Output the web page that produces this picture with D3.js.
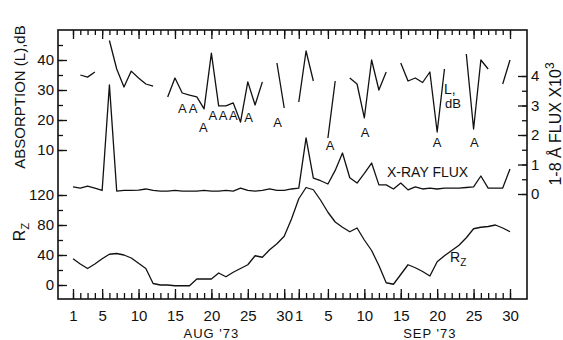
<!DOCTYPE html>
<html>
<head>
<meta charset="utf-8">
<script src="https://cdn.jsdelivr.net/npm/d3@7"></script>
<style>
  body { margin: 0; background: #fff; }
  svg { display: block; }
  text { font-family: "Liberation Sans", Arial, sans-serif; fill: #111; }
  .axis text { font-size: 15px; }
  .axis line { stroke: #111; stroke-width: 1.3; }
  .axis path { display: none; }
</style>
</head>
<body>
<div id="chart"></div>
<script>
// daily values, Aug 1..31 and Sep 1..30 1973 (null = no data)
var absorptionAug = [null, 35, 34.3, 36, null, 46.5, 37, 31, 36.3, 34, 32, 31.3, null,
  27.7, 34, 29, 28.3, 27.7, 23.7, 42.3, 24.7, 24.7, 25.7, 19.3, 32.7, 25, 32.7, null, 39, 24, null];
var absorptionSep = [26, 43, 33, null, 14, 33, null, 34, 32, 20.7, 40, 30, 36, null,
  39, 33, 34, 32.5, 36, 16, 37, null, null, 42, 17, 40, 37, null, 32, 40];
var xrayAug = [0.24, 0.2, 0.27, 0.2, 0.12, 3.7, 0.1, 0.12, 0.12, 0.13, 0.17, 0.12, 0.1, 0.1, 0.12,
  0.1, 0.1, 0.1, 0.12, 0.1, 0.1, 0.12, 0.1, 0.2, 0.12, 0.1, 0.12, 0.17, 0.12, 0.12, 0.17];
var xraySep = [0.2, 1.9, 0.54, 0.45, 0.34, 0.8, 1.39, 0.55, 0.37, 0.7, 1.05, 0.31, 0.31, 0.17, 0.37,
  0.14, 0.24, 0.17, 0.2, 0.17, 0.2, 0.2, 0.2, 0.22, 0.24, 0.61, 0.2, 0.2, 0.2, 0.85];
var rzAug = [35, 28, 22, 28, 35, 41, 42, 40, 36, 29, 22, 2, 0, 0, -1, -1, -1, 8, 8, 8,
  16, 11, 17, 22, 27, 39, 37, 47, 55, 65, 88];
var rzSep = [115, 130, 127, 113, 97, 84, 77, 71, 76, 60, 46, 26, 3, 1, 14, 27, 23, 18, 12, 31,
  39, 46, 53, 63, 75, 77, 78, 80, 76, 71];

// "A" markers: [month (7 = Aug, 8 = Sep), day, dB level of baseline]
var aMarks = [[7, 16, 22.3], [7, 17.5, 22.3], [7, 18.9, 16], [7, 20.2, 20], [7, 21.6, 20],
  [7, 23, 20], [7, 25.1, 19.3], [7, 29.1, 17.7], [8, 5.3, 10], [8, 10.1, 14.3],
  [8, 20, 11], [8, 25.1, 11]];

var dayTicks = [1, 5, 10, 15, 20, 25, 30];
var monthLabels = ["AUG '73", "SEP '73"];
var monthLabelDays = [20, 19];
var dbTicks = [10, 20, 30, 40];
var fluxTicks = [0, 1, 2, 3, 4];
var rzTicks = [0, 40, 80, 120];

function day(m, d) { return new Date(Date.UTC(1973, m, 1) + (d - 1) * 864e5); }

function series(aug, sep) {
  return aug.map(function (v, i) { return { date: day(7, i + 1), v: v }; })
    .concat(sep.map(function (v, i) { return { date: day(8, i + 1), v: v }; }));
}

var width = 563, height = 340;
var frame = { left: 58, right: 527, top: 30, bottom: 299 };

var svg = d3.select('#chart').append('svg')
  .attr('width', width).attr('height', height);

var x = d3.scaleUtc().domain([day(7, 1), day(8, 30)]).range([73, 510]);
var yL = d3.scaleLinear().domain([10, 40]).range([150, 60]);
var yX = d3.scaleLinear().domain([0, 4]).range([194, 76]);
var yR = d3.scaleLinear().domain([0, 120]).range([285, 195]);

var allDays = series(rzAug, rzSep).map(function (d) { return d.date; });
var majorDays = allDays.filter(function (d) { return dayTicks.indexOf(d.getUTCDate()) >= 0; });

// frame
svg.append('rect')
  .attr('x', frame.left).attr('y', frame.top)
  .attr('width', frame.right - frame.left).attr('height', frame.bottom - frame.top)
  .attr('fill', 'none').attr('stroke', '#111').attr('stroke-width', 1.6);

// top ticks
svg.append('g').attr('class', 'axis').attr('transform', 'translate(0,' + frame.top + ')')
  .call(d3.axisTop(x).tickValues(allDays).tickSize(-5).tickFormat(''));
svg.append('g').attr('class', 'axis').attr('transform', 'translate(0,' + frame.top + ')')
  .call(d3.axisTop(x).tickValues(majorDays).tickSize(-9).tickFormat(''));

// bottom ticks + labels
svg.append('g').attr('class', 'axis').attr('transform', 'translate(0,' + frame.bottom + ')')
  .call(d3.axisBottom(x).tickValues(allDays).tickSize(-6).tickFormat(''));
svg.append('g').attr('class', 'axis').attr('transform', 'translate(0,' + frame.bottom + ')')
  .call(d3.axisBottom(x).tickValues(majorDays).tickSize(-10).tickPadding(11)
    .tickFormat(function (d) { return d.getUTCDate(); }));

svg.selectAll('.month').data(monthLabels).enter().append('text')
  .attr('class', 'month')
  .attr('x', function (d, i) { return x(day(7 + i, monthLabelDays[i])); })
  .attr('y', 338)
  .attr('text-anchor', 'middle')
  .style('font-size', '13px')
  .style('letter-spacing', '1px')
  .text(function (d) { return d; });

// left axes
function leftAxis(scale, major, minorStep) {
  var dom = scale.domain();
  var minor = d3.range(dom[0], dom[1] + 0.001, minorStep);
  svg.append('g').attr('class', 'axis').attr('transform', 'translate(' + frame.left + ',0)')
    .call(d3.axisLeft(scale).tickValues(minor).tickSize(-5).tickFormat(''));
  svg.append('g').attr('class', 'axis').attr('transform', 'translate(' + frame.left + ',0)')
    .call(d3.axisLeft(scale).tickValues(major).tickSize(-9).tickPadding(4));
}
var yLtick = d3.scaleLinear().domain([10, 45]).range([yL(10), yL(45)]);
leftAxis(yLtick, dbTicks, 5);
leftAxis(yR, rzTicks, 20);

// right axis
var fluxMinor = d3.range(0, 4.01, 0.5);
svg.append('g').attr('class', 'axis').attr('transform', 'translate(' + frame.right + ',0)')
  .call(d3.axisRight(yX).tickValues(fluxMinor).tickSize(-5).tickFormat(''));
svg.append('g').attr('class', 'axis').attr('transform', 'translate(' + frame.right + ',0)')
  .call(d3.axisRight(yX).tickValues(fluxTicks).tickSize(-9).tickPadding(4)
    .tickFormat(d3.format('d')));

// axis titles
svg.append('text')
  .attr('transform', 'translate(25,97) rotate(-90)')
  .attr('text-anchor', 'middle')
  .style('font-size', '15px')
  .text('ABSORPTION (L),dB');

var rzTitle = svg.append('text')
  .attr('transform', 'translate(25,232) rotate(-90)')
  .attr('text-anchor', 'middle')
  .style('font-size', '16px');
rzTitle.append('tspan').text('R');
rzTitle.append('tspan').attr('dy', 4).style('font-size', '11px').text('Z');

var fluxTitle = svg.append('text')
  .attr('transform', 'translate(561,124) rotate(-90)')
  .attr('text-anchor', 'middle')
  .style('font-size', '16px');
fluxTitle.append('tspan').text('1-8 Å FLUX X10');
fluxTitle.append('tspan').attr('dy', -7).style('font-size', '12px').text('3');

// lines
function drawLine(data, y) {
  var line = d3.line()
    .defined(function (d) { return d.v !== null; })
    .x(function (d) { return x(d.date); })
    .y(function (d) { return y(d.v); });
  svg.append('path')
    .datum(data)
    .attr('d', line)
    .attr('fill', 'none')
    .attr('stroke', '#111')
    .attr('stroke-width', 1.3)
    .attr('stroke-linejoin', 'round');
}
drawLine(series(absorptionAug, absorptionSep), yL);
drawLine(series(xrayAug, xraySep), yX);
drawLine(series(rzAug, rzSep), yR);

// "A" markers
svg.selectAll('.amark').data(aMarks).enter().append('text')
  .attr('class', 'amark')
  .attr('x', function (d) { return x(day(d[0], d[1])); })
  .attr('y', function (d) { return yL(d[2]); })
  .attr('text-anchor', 'middle')
  .style('font-size', '13px')
  .text('A');

// in-plot labels
svg.append('text').attr('x', 444).attr('y', 94).style('font-size', '14px').text('L,');
svg.append('text').attr('x', 445).attr('y', 108).style('font-size', '13px').text('dB');
svg.append('text').attr('x', 387).attr('y', 177).style('font-size', '14px').text('X-RAY FLUX');
var rzLabel = svg.append('text').attr('x', 450).attr('y', 262).style('font-size', '14px');
rzLabel.append('tspan').text('R');
rzLabel.append('tspan').attr('dy', 4).style('font-size', '10px').text('Z');
</script>
</body>
</html>
